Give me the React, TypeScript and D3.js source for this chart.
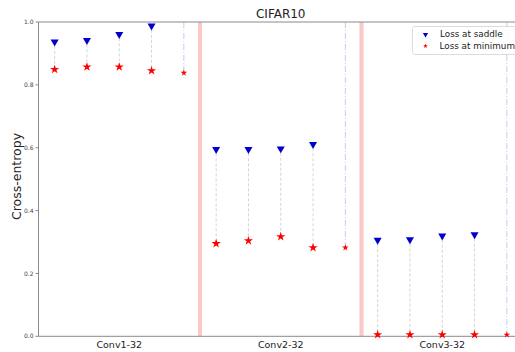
import * as d3 from "d3";

const categories = ["Conv1-32", "Conv2-32", "Conv3-32"];
// loss at saddle per run (null = off the top of the plot)
const saddleLoss = [
  [0.94, 0.945, 0.964, 0.991, null],
  [0.598, 0.598, 0.6, 0.614, null],
  [0.309, 0.311, 0.323, 0.327, null],
];
const minimumLoss = [
  [0.849, 0.857, 0.857, 0.845, 0.838],
  [0.295, 0.304, 0.317, 0.282, 0.282],
  [0.005, 0.005, 0.005, 0.005, 0.005],
];
const yTicks = [0, 0.2, 0.4, 0.6, 0.8, 1.0];

const W = 515;
const H = 352;
const margin = { left: 38.5, top: 22, bottom: 336.3, right: 523 };
const FONT = "DejaVu Sans, sans-serif";

export default function App() {
  const perGroup = saddleLoss[0].length;
  const x = d3
    .scaleLinear()
    .domain([-0.5, categories.length * perGroup - 0.5])
    .range([margin.left, margin.right]);
  const y = d3.scaleLinear().domain([0, 1]).range([margin.bottom, margin.top]);

  const tri = d3.symbol().type(d3.symbolTriangle).size(28)();
  const star = d3.symbol().type(d3.symbolStar).size(26)();
  const smallStar = d3.symbol().type(d3.symbolStar).size(14)();
  const legendTri = d3.symbol().type(d3.symbolTriangle).size(12)();
  const legendStar = d3.symbol().type(d3.symbolStar).size(7)();

  const points: { i: number; s: number | null; m: number; last: boolean }[] = [];
  saddleLoss.forEach((grp, g) =>
    grp.forEach((s, j) =>
      points.push({ i: g * perGroup + j, s, m: minimumLoss[g][j], last: s === null })
    )
  );

  const seps = categories.slice(1).map((_, g) => (g + 1) * perGroup - 0.5);

  return (
    <svg
      width={W}
      height={H}
      style={{ position: "absolute", left: 0, top: 0, background: "#fff" }}
      fontFamily={FONT}
    >
      <defs>
        <clipPath id="plot">
          <rect x={margin.left} y={margin.top} width={W - margin.left} height={margin.bottom - margin.top} />
        </clipPath>
      </defs>

      {/* vertical connectors */}
      <g clipPath="url(#plot)">
        {points.map((p) =>
          p.last ? (
            <line
              key={"l" + p.i}
              x1={x(p.i)}
              x2={x(p.i)}
              y1={y(1)}
              y2={y(p.m)}
              stroke="#c8c8f0"
              strokeWidth={1}
              strokeDasharray="6 2 1 2"
            />
          ) : (
            <line
              key={"l" + p.i}
              x1={x(p.i)}
              x2={x(p.i)}
              y1={y(p.s as number)}
              y2={y(p.m)}
              stroke="#d4d4d4"
              strokeWidth={1}
              strokeDasharray="3 2"
            />
          )
        )}
        {seps.map((s) => (
          <line
            key={"sep" + s}
            x1={x(s)}
            x2={x(s)}
            y1={margin.top}
            y2={margin.bottom}
            stroke="#fac8c8"
            strokeWidth={4}
          />
        ))}
      </g>

      {/* spines */}
      <line x1={margin.left} x2={margin.left} y1={margin.top} y2={margin.bottom} stroke="#8a8a8a" strokeWidth={1} />
      <line x1={margin.left} x2={W} y1={margin.top} y2={margin.top} stroke="#8a8a8a" strokeWidth={1} />
      <line x1={margin.left} x2={W} y1={margin.bottom} y2={margin.bottom} stroke="#8a8a8a" strokeWidth={1} />

      {/* markers */}
      {points.map((p) => (
        <g key={"m" + p.i}>
          {!p.last && (
            <path d={tri} transform={`translate(${x(p.i)},${y(p.s as number) + 1}) rotate(180)`} fill="#0000cc" />
          )}
          <path d={p.last ? smallStar : star} transform={`translate(${x(p.i)},${y(p.m)})`} fill="#ff0000" />
        </g>
      ))}

      {/* y ticks */}
      {yTicks.map((t) => (
        <g key={"t" + t}>
          <line x1={margin.left - 3} x2={margin.left} y1={y(t)} y2={y(t)} stroke="#8a8a8a" />
          <text x={margin.left - 5} y={y(t)} dy="0.35em" textAnchor="end" fontSize={6} fill="#444">
            {t.toFixed(1)}
          </text>
        </g>
      ))}

      {/* category labels */}
      {categories.map((c, g) => (
        <text key={c} x={x(g * perGroup + (perGroup - 1) / 2)} y={347.5} textAnchor="middle" fontSize={9.5} fill="#222">
          {c}
        </text>
      ))}

      <text transform={`translate(20.5,${176.5}) rotate(-90)`} textAnchor="middle" fontSize={12.5} fill="#222">
        Cross-entropy
      </text>
      <text x={(margin.left + margin.right) / 2} y={18} textAnchor="middle" fontSize={12} fill="#222">
        CIFAR10
      </text>

      {/* legend */}
      <g>
        <rect x={412.5} y={26.5} width={120} height={28} rx={2} fill="#fff" fillOpacity={0.9} stroke="#dcdcdc" />
        <path d={legendTri} transform="translate(425.5,34.5) rotate(180)" fill="#0000cc" />
        <path d={legendStar} transform="translate(425.5,46)" fill="#ff0000" />
        <text x={440} y={34} dy="0.35em" fontSize={8.8} fill="#222">
          Loss at saddle
        </text>
        <text x={439.5} y={46} dy="0.35em" fontSize={8.8} fill="#222">
          Loss at minimum
        </text>
      </g>
    </svg>
  );
}
